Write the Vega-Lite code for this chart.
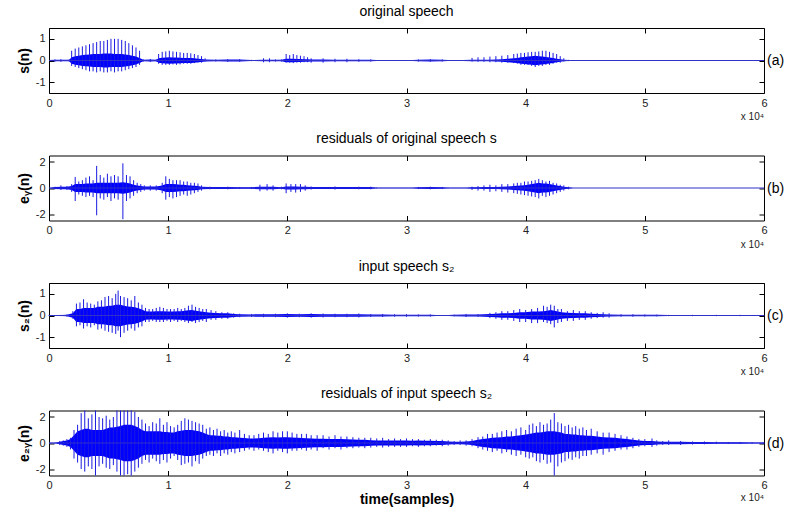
{
"$schema":"https://vega.github.io/schema/vega-lite/v6.json",
"background":"white",
"padding":{"left":16,"top":4,"right":5,"bottom":5},
"bounds":"flush",
"spacing":62.5,
"config":{
 "font":"Liberation Sans",
 "view":{"stroke":"black","strokeWidth":1},
 "axis":{"domain":false,"grid":false,"tickSize":-5,"tickColor":"black","tickWidth":1,"labelFontSize":11,"labelColor":"#222","labelPadding":9,"labelFlush":false,"labelExpr":"'' + datum.value","titleFontSize":14,"titleFontWeight":"bold","titleColor":"black","titlePadding":4},
 "axisRight":{"titleAngle":0,"titleFontWeight":"normal","titleAlign":"left","titleBaseline":"middle","titlePadding":2},
 "title":{"fontSize":14,"fontWeight":"normal","color":"black","offset":9}
},
"datasets":{
"a":[
{"x":0,"l":0,"h":0,"cl":-0.02,"ch":0.02},
{"x":0.05,"l":-0.05,"h":0.05,"cl":-0.03,"ch":0.03},
{"x":0.1,"l":-0.06,"h":0.06,"cl":-0.04,"ch":0.04},
{"x":0.17,"l":-0.05,"h":0.05,"cl":-0.04,"ch":0.04},
{"x":0.19,"l":-0.25,"h":0.45,"cl":-0.15,"ch":0.15},
{"x":0.22,"l":-0.3,"h":0.55,"cl":-0.2,"ch":0.2},
{"x":0.25,"l":-0.35,"h":0.6,"cl":-0.22,"ch":0.22},
{"x":0.28,"l":-0.4,"h":0.65,"cl":-0.25,"ch":0.25},
{"x":0.31,"l":-0.45,"h":0.7,"cl":-0.27,"ch":0.27},
{"x":0.34,"l":-0.5,"h":0.75,"cl":-0.28,"ch":0.28},
{"x":0.37,"l":-0.5,"h":0.8,"cl":-0.3,"ch":0.3},
{"x":0.40,"l":-0.55,"h":0.85,"cl":-0.3,"ch":0.3},
{"x":0.43,"l":-0.5,"h":0.9,"cl":-0.3,"ch":0.3},
{"x":0.46,"l":-0.55,"h":0.9,"cl":-0.32,"ch":0.32},
{"x":0.49,"l":-0.55,"h":0.95,"cl":-0.32,"ch":0.32},
{"x":0.52,"l":-0.5,"h":1.0,"cl":-0.3,"ch":0.32},
{"x":0.55,"l":-0.55,"h":1.0,"cl":-0.3,"ch":0.3},
{"x":0.58,"l":-0.5,"h":1.0,"cl":-0.3,"ch":0.3},
{"x":0.61,"l":-0.5,"h":0.95,"cl":-0.3,"ch":0.3},
{"x":0.64,"l":-0.45,"h":0.9,"cl":-0.28,"ch":0.28},
{"x":0.67,"l":-0.4,"h":0.8,"cl":-0.25,"ch":0.25},
{"x":0.70,"l":-0.35,"h":0.7,"cl":-0.22,"ch":0.22},
{"x":0.73,"l":-0.3,"h":0.6,"cl":-0.18,"ch":0.18},
{"x":0.76,"l":-0.2,"h":0.45,"cl":-0.12,"ch":0.12},
{"x":0.79,"l":-0.06,"h":0.06,"cl":-0.04,"ch":0.04},
{"x":0.85,"l":-0.07,"h":0.07,"cl":-0.05,"ch":0.05},
{"x":0.9,"l":-0.05,"h":0.05,"cl":-0.04,"ch":0.04},
{"x":0.92,"l":-0.15,"h":0.3,"cl":-0.1,"ch":0.1},
{"x":0.95,"l":-0.2,"h":0.4,"cl":-0.13,"ch":0.13},
{"x":0.98,"l":-0.2,"h":0.42,"cl":-0.14,"ch":0.14},
{"x":1.01,"l":-0.2,"h":0.45,"cl":-0.15,"ch":0.15},
{"x":1.04,"l":-0.18,"h":0.42,"cl":-0.14,"ch":0.14},
{"x":1.07,"l":-0.2,"h":0.4,"cl":-0.14,"ch":0.14},
{"x":1.10,"l":-0.18,"h":0.38,"cl":-0.13,"ch":0.13},
{"x":1.13,"l":-0.15,"h":0.35,"cl":-0.12,"ch":0.12},
{"x":1.16,"l":-0.15,"h":0.35,"cl":-0.12,"ch":0.12},
{"x":1.19,"l":-0.15,"h":0.33,"cl":-0.11,"ch":0.11},
{"x":1.22,"l":-0.12,"h":0.3,"cl":-0.1,"ch":0.1},
{"x":1.25,"l":-0.1,"h":0.25,"cl":-0.08,"ch":0.08},
{"x":1.28,"l":-0.1,"h":0.2,"cl":-0.07,"ch":0.07},
{"x":1.31,"l":-0.05,"h":0.1,"cl":-0.05,"ch":0.05},
{"x":1.4,"l":-0.05,"h":0.05,"cl":-0.04,"ch":0.04},
{"x":1.5,"l":-0.06,"h":0.06,"cl":-0.05,"ch":0.05},
{"x":1.6,"l":-0.06,"h":0.06,"cl":-0.05,"ch":0.05},
{"x":1.7,"l":-0.03,"h":0.03,"cl":-0.02,"ch":0.02},
{"x":1.8,"l":-0.08,"h":0.1,"cl":-0.04,"ch":0.04},
{"x":1.85,"l":-0.08,"h":0.1,"cl":-0.04,"ch":0.04},
{"x":1.9,"l":-0.05,"h":0.05,"cl":-0.03,"ch":0.03},
{"x":1.95,"l":-0.05,"h":0.05,"cl":-0.03,"ch":0.03},
{"x":1.99,"l":-0.1,"h":0.3,"cl":-0.08,"ch":0.08},
{"x":2.02,"l":-0.1,"h":0.25,"cl":-0.08,"ch":0.08},
{"x":2.05,"l":-0.12,"h":0.3,"cl":-0.08,"ch":0.08},
{"x":2.08,"l":-0.1,"h":0.25,"cl":-0.07,"ch":0.07},
{"x":2.11,"l":-0.1,"h":0.22,"cl":-0.07,"ch":0.07},
{"x":2.14,"l":-0.08,"h":0.2,"cl":-0.06,"ch":0.06},
{"x":2.17,"l":-0.08,"h":0.15,"cl":-0.06,"ch":0.06},
{"x":2.2,"l":-0.1,"h":0.1,"cl":-0.05,"ch":0.05},
{"x":2.3,"l":-0.1,"h":0.1,"cl":-0.05,"ch":0.05},
{"x":2.4,"l":-0.08,"h":0.08,"cl":-0.04,"ch":0.04},
{"x":2.5,"l":-0.08,"h":0.08,"cl":-0.04,"ch":0.04},
{"x":2.6,"l":-0.06,"h":0.06,"cl":-0.03,"ch":0.03},
{"x":2.7,"l":-0.05,"h":0.05,"cl":-0.03,"ch":0.03},
{"x":2.8,"l":-0.02,"h":0.02,"cl":-0.01,"ch":0.01},
{"x":3.0,"l":0,"h":0,"cl":-0.01,"ch":0.01},
{"x":3.1,"l":-0.05,"h":0.05,"cl":-0.04,"ch":0.04},
{"x":3.2,"l":-0.06,"h":0.06,"cl":-0.05,"ch":0.05},
{"x":3.3,"l":-0.05,"h":0.05,"cl":-0.04,"ch":0.04},
{"x":3.4,"l":-0.02,"h":0.02,"cl":-0.01,"ch":0.01},
{"x":3.55,"l":-0.05,"h":0.12,"cl":-0.03,"ch":0.03},
{"x":3.6,"l":-0.06,"h":0.15,"cl":-0.03,"ch":0.03},
{"x":3.65,"l":-0.06,"h":0.15,"cl":-0.04,"ch":0.04},
{"x":3.7,"l":-0.08,"h":0.18,"cl":-0.04,"ch":0.04},
{"x":3.75,"l":-0.08,"h":0.2,"cl":-0.05,"ch":0.05},
{"x":3.8,"l":-0.1,"h":0.22,"cl":-0.06,"ch":0.06},
{"x":3.85,"l":-0.1,"h":0.25,"cl":-0.08,"ch":0.08},
{"x":3.9,"l":-0.12,"h":0.3,"cl":-0.1,"ch":0.1},
{"x":3.93,"l":-0.15,"h":0.32,"cl":-0.12,"ch":0.12},
{"x":3.96,"l":-0.2,"h":0.35,"cl":-0.15,"ch":0.15},
{"x":3.99,"l":-0.2,"h":0.35,"cl":-0.16,"ch":0.16},
{"x":4.02,"l":-0.2,"h":0.38,"cl":-0.18,"ch":0.18},
{"x":4.05,"l":-0.25,"h":0.4,"cl":-0.2,"ch":0.2},
{"x":4.08,"l":-0.3,"h":0.4,"cl":-0.22,"ch":0.22},
{"x":4.11,"l":-0.25,"h":0.42,"cl":-0.2,"ch":0.2},
{"x":4.14,"l":-0.25,"h":0.45,"cl":-0.18,"ch":0.18},
{"x":4.17,"l":-0.2,"h":0.45,"cl":-0.16,"ch":0.16},
{"x":4.20,"l":-0.2,"h":0.4,"cl":-0.14,"ch":0.14},
{"x":4.23,"l":-0.15,"h":0.35,"cl":-0.12,"ch":0.12},
{"x":4.26,"l":-0.1,"h":0.3,"cl":-0.08,"ch":0.08},
{"x":4.29,"l":-0.1,"h":0.2,"cl":-0.06,"ch":0.06},
{"x":4.32,"l":-0.05,"h":0.1,"cl":-0.04,"ch":0.04},
{"x":4.36,"l":-0.03,"h":0.03,"cl":-0.02,"ch":0.02},
{"x":4.4,"l":0,"h":0,"cl":0,"ch":0},
{"x":6,"l":0,"h":0,"cl":0,"ch":0}
],
"b":[
{"x":0,"l":0,"h":0,"cl":0,"ch":0},
{"x":0.05,"l":-0.1,"h":0.1,"cl":-0.08,"ch":0.08},
{"x":0.1,"l":-0.15,"h":0.2,"cl":-0.1,"ch":0.1},
{"x":0.15,"l":-0.15,"h":0.15,"cl":-0.1,"ch":0.1},
{"x":0.19,"l":-0.3,"h":0.3,"cl":-0.15,"ch":0.15},
{"x":0.22,"l":-1.0,"h":0.85,"cl":-0.3,"ch":0.3},
{"x":0.25,"l":-0.5,"h":0.5,"cl":-0.3,"ch":0.3},
{"x":0.28,"l":-0.6,"h":0.6,"cl":-0.3,"ch":0.3},
{"x":0.31,"l":-0.7,"h":0.8,"cl":-0.35,"ch":0.35},
{"x":0.34,"l":-0.6,"h":0.9,"cl":-0.35,"ch":0.35},
{"x":0.37,"l":-0.7,"h":0.6,"cl":-0.35,"ch":0.35},
{"x":0.40,"l":-2.1,"h":1.7,"cl":-0.4,"ch":0.4},
{"x":0.43,"l":-0.8,"h":1.0,"cl":-0.4,"ch":0.4},
{"x":0.46,"l":-0.9,"h":0.8,"cl":-0.4,"ch":0.4},
{"x":0.49,"l":-0.7,"h":1.1,"cl":-0.4,"ch":0.4},
{"x":0.52,"l":-1.0,"h":0.9,"cl":-0.4,"ch":0.4},
{"x":0.55,"l":-0.8,"h":1.0,"cl":-0.4,"ch":0.4},
{"x":0.58,"l":-0.9,"h":0.9,"cl":-0.4,"ch":0.4},
{"x":0.62,"l":-2.4,"h":1.9,"cl":-0.45,"ch":0.45},
{"x":0.65,"l":-1.0,"h":1.0,"cl":-0.4,"ch":0.4},
{"x":0.68,"l":-0.8,"h":0.9,"cl":-0.35,"ch":0.35},
{"x":0.71,"l":-0.6,"h":0.6,"cl":-0.25,"ch":0.25},
{"x":0.74,"l":-0.4,"h":0.4,"cl":-0.2,"ch":0.2},
{"x":0.77,"l":-0.3,"h":0.3,"cl":-0.15,"ch":0.15},
{"x":0.8,"l":-0.2,"h":0.2,"cl":-0.12,"ch":0.12},
{"x":0.85,"l":-0.2,"h":0.2,"cl":-0.12,"ch":0.12},
{"x":0.9,"l":-0.2,"h":0.2,"cl":-0.12,"ch":0.12},
{"x":0.95,"l":-0.4,"h":0.4,"cl":-0.2,"ch":0.2},
{"x":0.98,"l":-0.9,"h":0.9,"cl":-0.3,"ch":0.3},
{"x":1.01,"l":-0.7,"h":0.7,"cl":-0.3,"ch":0.3},
{"x":1.04,"l":-0.8,"h":0.6,"cl":-0.3,"ch":0.3},
{"x":1.07,"l":-0.7,"h":0.6,"cl":-0.28,"ch":0.28},
{"x":1.10,"l":-0.6,"h":0.6,"cl":-0.25,"ch":0.25},
{"x":1.13,"l":-0.5,"h":0.5,"cl":-0.25,"ch":0.25},
{"x":1.16,"l":-0.6,"h":0.5,"cl":-0.22,"ch":0.22},
{"x":1.19,"l":-0.5,"h":0.4,"cl":-0.2,"ch":0.2},
{"x":1.22,"l":-0.4,"h":0.4,"cl":-0.18,"ch":0.18},
{"x":1.25,"l":-0.3,"h":0.35,"cl":-0.15,"ch":0.15},
{"x":1.28,"l":-0.2,"h":0.2,"cl":-0.1,"ch":0.1},
{"x":1.35,"l":-0.1,"h":0.1,"cl":-0.08,"ch":0.08},
{"x":1.5,"l":-0.1,"h":0.1,"cl":-0.08,"ch":0.08},
{"x":1.6,"l":-0.08,"h":0.08,"cl":-0.06,"ch":0.06},
{"x":1.7,"l":-0.08,"h":0.08,"cl":-0.06,"ch":0.06},
{"x":1.77,"l":-0.25,"h":0.25,"cl":-0.1,"ch":0.1},
{"x":1.83,"l":-0.2,"h":0.3,"cl":-0.1,"ch":0.1},
{"x":1.88,"l":-0.2,"h":0.2,"cl":-0.1,"ch":0.1},
{"x":1.95,"l":-0.1,"h":0.1,"cl":-0.06,"ch":0.06},
{"x":1.99,"l":-0.4,"h":0.35,"cl":-0.12,"ch":0.12},
{"x":2.03,"l":-0.3,"h":0.3,"cl":-0.12,"ch":0.12},
{"x":2.07,"l":-0.35,"h":0.3,"cl":-0.12,"ch":0.12},
{"x":2.11,"l":-0.3,"h":0.3,"cl":-0.1,"ch":0.1},
{"x":2.15,"l":-0.2,"h":0.2,"cl":-0.1,"ch":0.1},
{"x":2.2,"l":-0.12,"h":0.12,"cl":-0.08,"ch":0.08},
{"x":2.4,"l":-0.12,"h":0.12,"cl":-0.08,"ch":0.08},
{"x":2.6,"l":-0.1,"h":0.1,"cl":-0.07,"ch":0.07},
{"x":2.7,"l":-0.1,"h":0.1,"cl":-0.07,"ch":0.07},
{"x":2.75,"l":-0.03,"h":0.03,"cl":-0.02,"ch":0.02},
{"x":3.05,"l":0,"h":0,"cl":-0.01,"ch":0.01},
{"x":3.1,"l":-0.08,"h":0.08,"cl":-0.06,"ch":0.06},
{"x":3.2,"l":-0.1,"h":0.1,"cl":-0.07,"ch":0.07},
{"x":3.3,"l":-0.08,"h":0.08,"cl":-0.06,"ch":0.06},
{"x":3.35,"l":-0.02,"h":0.02,"cl":-0.01,"ch":0.01},
{"x":3.5,"l":0,"h":0,"cl":-0.01,"ch":0.01},
{"x":3.55,"l":-0.15,"h":0.1,"cl":-0.05,"ch":0.05},
{"x":3.6,"l":-0.2,"h":0.15,"cl":-0.06,"ch":0.06},
{"x":3.65,"l":-0.2,"h":0.2,"cl":-0.07,"ch":0.07},
{"x":3.7,"l":-0.3,"h":0.25,"cl":-0.08,"ch":0.08},
{"x":3.75,"l":-0.25,"h":0.2,"cl":-0.08,"ch":0.08},
{"x":3.8,"l":-0.3,"h":0.3,"cl":-0.1,"ch":0.1},
{"x":3.85,"l":-0.35,"h":0.3,"cl":-0.12,"ch":0.12},
{"x":3.9,"l":-0.4,"h":0.35,"cl":-0.15,"ch":0.15},
{"x":3.93,"l":-0.45,"h":0.4,"cl":-0.17,"ch":0.17},
{"x":3.96,"l":-0.5,"h":0.4,"cl":-0.2,"ch":0.2},
{"x":3.99,"l":-0.55,"h":0.5,"cl":-0.22,"ch":0.22},
{"x":4.02,"l":-0.6,"h":0.5,"cl":-0.25,"ch":0.25},
{"x":4.05,"l":-0.65,"h":0.55,"cl":-0.3,"ch":0.3},
{"x":4.08,"l":-0.7,"h":0.6,"cl":-0.35,"ch":0.35},
{"x":4.11,"l":-0.8,"h":0.7,"cl":-0.4,"ch":0.4},
{"x":4.14,"l":-0.6,"h":0.6,"cl":-0.35,"ch":0.35},
{"x":4.17,"l":-0.7,"h":0.5,"cl":-0.35,"ch":0.35},
{"x":4.20,"l":-0.6,"h":0.55,"cl":-0.3,"ch":0.3},
{"x":4.23,"l":-0.5,"h":0.4,"cl":-0.25,"ch":0.25},
{"x":4.26,"l":-0.4,"h":0.35,"cl":-0.2,"ch":0.2},
{"x":4.29,"l":-0.3,"h":0.25,"cl":-0.15,"ch":0.15},
{"x":4.32,"l":-0.2,"h":0.2,"cl":-0.1,"ch":0.1},
{"x":4.36,"l":-0.1,"h":0.1,"cl":-0.05,"ch":0.05},
{"x":4.4,"l":0,"h":0,"cl":0,"ch":0},
{"x":6,"l":0,"h":0,"cl":0,"ch":0}
],
"c":[
{"x":0,"l":-0.02,"h":0.02,"cl":-0.015,"ch":0.015},
{"x":0.1,"l":-0.03,"h":0.03,"cl":-0.02,"ch":0.02},
{"x":0.15,"l":-0.05,"h":0.05,"cl":-0.03,"ch":0.03},
{"x":0.2,"l":-0.15,"h":0.2,"cl":-0.1,"ch":0.1},
{"x":0.23,"l":-0.5,"h":0.55,"cl":-0.3,"ch":0.3},
{"x":0.26,"l":-0.45,"h":0.6,"cl":-0.3,"ch":0.3},
{"x":0.29,"l":-0.6,"h":0.75,"cl":-0.35,"ch":0.35},
{"x":0.32,"l":-0.5,"h":0.6,"cl":-0.35,"ch":0.35},
{"x":0.35,"l":-0.55,"h":0.55,"cl":-0.35,"ch":0.35},
{"x":0.38,"l":-0.45,"h":0.5,"cl":-0.35,"ch":0.35},
{"x":0.41,"l":-0.65,"h":0.65,"cl":-0.4,"ch":0.4},
{"x":0.44,"l":-0.6,"h":0.7,"cl":-0.4,"ch":0.4},
{"x":0.47,"l":-0.7,"h":0.85,"cl":-0.42,"ch":0.42},
{"x":0.50,"l":-0.75,"h":0.9,"cl":-0.45,"ch":0.45},
{"x":0.53,"l":-0.8,"h":0.8,"cl":-0.45,"ch":0.45},
{"x":0.56,"l":-0.85,"h":1.0,"cl":-0.5,"ch":0.5},
{"x":0.58,"l":-0.7,"h":1.15,"cl":-0.5,"ch":0.5},
{"x":0.60,"l":-1.0,"h":0.9,"cl":-0.5,"ch":0.5},
{"x":0.63,"l":-0.8,"h":0.85,"cl":-0.45,"ch":0.45},
{"x":0.66,"l":-0.7,"h":0.8,"cl":-0.42,"ch":0.42},
{"x":0.69,"l":-0.6,"h":0.7,"cl":-0.4,"ch":0.4},
{"x":0.72,"l":-0.7,"h":0.9,"cl":-0.38,"ch":0.38},
{"x":0.75,"l":-0.55,"h":0.6,"cl":-0.33,"ch":0.33},
{"x":0.78,"l":-0.5,"h":0.5,"cl":-0.28,"ch":0.28},
{"x":0.81,"l":-0.3,"h":0.35,"cl":-0.2,"ch":0.2},
{"x":0.84,"l":-0.3,"h":0.3,"cl":-0.18,"ch":0.18},
{"x":0.87,"l":-0.25,"h":0.3,"cl":-0.18,"ch":0.18},
{"x":0.90,"l":-0.3,"h":0.35,"cl":-0.2,"ch":0.2},
{"x":0.93,"l":-0.3,"h":0.4,"cl":-0.2,"ch":0.2},
{"x":0.96,"l":-0.3,"h":0.35,"cl":-0.2,"ch":0.2},
{"x":0.99,"l":-0.25,"h":0.3,"cl":-0.18,"ch":0.18},
{"x":1.02,"l":-0.3,"h":0.3,"cl":-0.18,"ch":0.18},
{"x":1.05,"l":-0.25,"h":0.3,"cl":-0.18,"ch":0.18},
{"x":1.08,"l":-0.3,"h":0.35,"cl":-0.2,"ch":0.2},
{"x":1.11,"l":-0.25,"h":0.3,"cl":-0.2,"ch":0.2},
{"x":1.14,"l":-0.3,"h":0.35,"cl":-0.22,"ch":0.22},
{"x":1.17,"l":-0.35,"h":0.45,"cl":-0.24,"ch":0.24},
{"x":1.20,"l":-0.3,"h":0.5,"cl":-0.25,"ch":0.25},
{"x":1.23,"l":-0.35,"h":0.4,"cl":-0.22,"ch":0.22},
{"x":1.26,"l":-0.3,"h":0.35,"cl":-0.2,"ch":0.2},
{"x":1.29,"l":-0.25,"h":0.3,"cl":-0.17,"ch":0.17},
{"x":1.32,"l":-0.3,"h":0.3,"cl":-0.15,"ch":0.15},
{"x":1.36,"l":-0.2,"h":0.25,"cl":-0.13,"ch":0.13},
{"x":1.40,"l":-0.2,"h":0.2,"cl":-0.12,"ch":0.12},
{"x":1.45,"l":-0.15,"h":0.15,"cl":-0.1,"ch":0.1},
{"x":1.5,"l":-0.15,"h":0.15,"cl":-0.1,"ch":0.1},
{"x":1.55,"l":-0.1,"h":0.1,"cl":-0.07,"ch":0.07},
{"x":1.6,"l":-0.08,"h":0.08,"cl":-0.06,"ch":0.06},
{"x":1.7,"l":-0.07,"h":0.07,"cl":-0.05,"ch":0.05},
{"x":1.8,"l":-0.08,"h":0.08,"cl":-0.06,"ch":0.06},
{"x":1.9,"l":-0.08,"h":0.08,"cl":-0.06,"ch":0.06},
{"x":2.0,"l":-0.1,"h":0.1,"cl":-0.07,"ch":0.07},
{"x":2.1,"l":-0.08,"h":0.08,"cl":-0.06,"ch":0.06},
{"x":2.2,"l":-0.1,"h":0.1,"cl":-0.07,"ch":0.07},
{"x":2.3,"l":-0.09,"h":0.09,"cl":-0.06,"ch":0.06},
{"x":2.4,"l":-0.08,"h":0.08,"cl":-0.06,"ch":0.06},
{"x":2.5,"l":-0.08,"h":0.08,"cl":-0.06,"ch":0.06},
{"x":2.6,"l":-0.09,"h":0.09,"cl":-0.06,"ch":0.06},
{"x":2.7,"l":-0.07,"h":0.07,"cl":-0.05,"ch":0.05},
{"x":2.8,"l":-0.07,"h":0.07,"cl":-0.05,"ch":0.05},
{"x":2.9,"l":-0.06,"h":0.06,"cl":-0.04,"ch":0.04},
{"x":3.0,"l":-0.06,"h":0.06,"cl":-0.04,"ch":0.04},
{"x":3.1,"l":-0.05,"h":0.05,"cl":-0.04,"ch":0.04},
{"x":3.2,"l":-0.05,"h":0.05,"cl":-0.04,"ch":0.04},
{"x":3.3,"l":-0.02,"h":0.02,"cl":-0.015,"ch":0.015},
{"x":3.4,"l":-0.04,"h":0.04,"cl":-0.03,"ch":0.03},
{"x":3.5,"l":-0.07,"h":0.07,"cl":-0.05,"ch":0.05},
{"x":3.6,"l":-0.06,"h":0.06,"cl":-0.05,"ch":0.05},
{"x":3.7,"l":-0.12,"h":0.12,"cl":-0.07,"ch":0.07},
{"x":3.75,"l":-0.15,"h":0.15,"cl":-0.08,"ch":0.08},
{"x":3.8,"l":-0.2,"h":0.2,"cl":-0.1,"ch":0.1},
{"x":3.85,"l":-0.2,"h":0.2,"cl":-0.1,"ch":0.1},
{"x":3.9,"l":-0.25,"h":0.25,"cl":-0.12,"ch":0.12},
{"x":3.95,"l":-0.3,"h":0.3,"cl":-0.15,"ch":0.15},
{"x":4.0,"l":-0.3,"h":0.25,"cl":-0.15,"ch":0.15},
{"x":4.05,"l":-0.35,"h":0.3,"cl":-0.18,"ch":0.18},
{"x":4.1,"l":-0.35,"h":0.35,"cl":-0.18,"ch":0.18},
{"x":4.15,"l":-0.3,"h":0.45,"cl":-0.2,"ch":0.2},
{"x":4.18,"l":-0.35,"h":0.4,"cl":-0.22,"ch":0.22},
{"x":4.21,"l":-0.4,"h":0.5,"cl":-0.25,"ch":0.25},
{"x":4.24,"l":-0.55,"h":0.45,"cl":-0.22,"ch":0.22},
{"x":4.27,"l":-0.35,"h":0.3,"cl":-0.18,"ch":0.18},
{"x":4.3,"l":-0.3,"h":0.3,"cl":-0.15,"ch":0.15},
{"x":4.35,"l":-0.25,"h":0.2,"cl":-0.13,"ch":0.13},
{"x":4.4,"l":-0.25,"h":0.25,"cl":-0.12,"ch":0.12},
{"x":4.45,"l":-0.2,"h":0.2,"cl":-0.1,"ch":0.1},
{"x":4.5,"l":-0.2,"h":0.2,"cl":-0.1,"ch":0.1},
{"x":4.55,"l":-0.15,"h":0.15,"cl":-0.08,"ch":0.08},
{"x":4.6,"l":-0.12,"h":0.12,"cl":-0.07,"ch":0.07},
{"x":4.65,"l":-0.1,"h":0.15,"cl":-0.06,"ch":0.06},
{"x":4.7,"l":-0.1,"h":0.1,"cl":-0.05,"ch":0.05},
{"x":4.8,"l":-0.06,"h":0.06,"cl":-0.04,"ch":0.04},
{"x":4.9,"l":-0.06,"h":0.06,"cl":-0.04,"ch":0.04},
{"x":5.0,"l":-0.05,"h":0.05,"cl":-0.04,"ch":0.04},
{"x":5.1,"l":-0.04,"h":0.04,"cl":-0.03,"ch":0.03},
{"x":5.2,"l":-0.03,"h":0.03,"cl":-0.02,"ch":0.02},
{"x":5.4,"l":-0.03,"h":0.03,"cl":-0.02,"ch":0.02},
{"x":5.6,"l":-0.03,"h":0.03,"cl":-0.02,"ch":0.02},
{"x":5.8,"l":-0.03,"h":0.03,"cl":-0.02,"ch":0.02},
{"x":6.0,"l":-0.02,"h":0.02,"cl":-0.015,"ch":0.015}
],
"d":[
{"x":0,"l":0,"h":0,"cl":-0.01,"ch":0.01},
{"x":0.05,"l":-0.03,"h":0.03,"cl":-0.02,"ch":0.02},
{"x":0.09,"l":-0.15,"h":0.15,"cl":-0.1,"ch":0.1},
{"x":0.12,"l":-0.2,"h":0.2,"cl":-0.15,"ch":0.15},
{"x":0.15,"l":-0.3,"h":0.3,"cl":-0.2,"ch":0.2},
{"x":0.18,"l":-0.5,"h":0.4,"cl":-0.3,"ch":0.3},
{"x":0.21,"l":-1.2,"h":1.0,"cl":-0.6,"ch":0.6},
{"x":0.24,"l":-1.5,"h":1.4,"cl":-0.9,"ch":0.9},
{"x":0.27,"l":-2.0,"h":2.3,"cl":-1.0,"ch":1.0},
{"x":0.30,"l":-2.2,"h":2.5,"cl":-1.1,"ch":1.1},
{"x":0.33,"l":-1.8,"h":1.9,"cl":-1.1,"ch":1.1},
{"x":0.36,"l":-2.0,"h":2.2,"cl":-1.0,"ch":1.0},
{"x":0.39,"l":-2.5,"h":2.5,"cl":-1.0,"ch":1.0},
{"x":0.42,"l":-1.8,"h":2.0,"cl":-1.0,"ch":1.0},
{"x":0.45,"l":-1.6,"h":1.9,"cl":-1.0,"ch":1.0},
{"x":0.48,"l":-1.9,"h":2.1,"cl":-1.1,"ch":1.1},
{"x":0.51,"l":-2.0,"h":1.8,"cl":-1.2,"ch":1.2},
{"x":0.54,"l":-1.7,"h":2.0,"cl":-1.2,"ch":1.2},
{"x":0.57,"l":-2.2,"h":2.5,"cl":-1.25,"ch":1.25},
{"x":0.60,"l":-2.5,"h":2.5,"cl":-1.3,"ch":1.3},
{"x":0.63,"l":-2.5,"h":2.5,"cl":-1.4,"ch":1.4},
{"x":0.66,"l":-2.4,"h":2.5,"cl":-1.4,"ch":1.4},
{"x":0.69,"l":-2.5,"h":2.5,"cl":-1.4,"ch":1.4},
{"x":0.72,"l":-2.2,"h":2.4,"cl":-1.3,"ch":1.3},
{"x":0.75,"l":-1.9,"h":2.0,"cl":-1.2,"ch":1.2},
{"x":0.78,"l":-1.6,"h":1.8,"cl":-1.0,"ch":1.0},
{"x":0.81,"l":-1.3,"h":1.5,"cl":-0.9,"ch":0.9},
{"x":0.84,"l":-1.5,"h":1.3,"cl":-0.9,"ch":0.9},
{"x":0.87,"l":-1.2,"h":1.6,"cl":-0.9,"ch":0.9},
{"x":0.90,"l":-1.4,"h":1.5,"cl":-0.9,"ch":0.9},
{"x":0.93,"l":-1.6,"h":1.9,"cl":-0.9,"ch":0.9},
{"x":0.96,"l":-1.3,"h":1.4,"cl":-0.85,"ch":0.85},
{"x":0.99,"l":-1.5,"h":1.6,"cl":-0.85,"ch":0.85},
{"x":1.02,"l":-1.2,"h":1.3,"cl":-0.8,"ch":0.8},
{"x":1.05,"l":-1.0,"h":1.2,"cl":-0.8,"ch":0.8},
{"x":1.08,"l":-1.3,"h":1.4,"cl":-0.9,"ch":0.9},
{"x":1.11,"l":-1.7,"h":1.7,"cl":-0.95,"ch":0.95},
{"x":1.14,"l":-1.6,"h":1.9,"cl":-1.0,"ch":1.0},
{"x":1.17,"l":-1.5,"h":1.8,"cl":-1.0,"ch":1.0},
{"x":1.20,"l":-1.8,"h":1.7,"cl":-1.0,"ch":1.0},
{"x":1.23,"l":-1.4,"h":1.6,"cl":-0.95,"ch":0.95},
{"x":1.26,"l":-1.6,"h":1.5,"cl":-0.9,"ch":0.9},
{"x":1.29,"l":-1.2,"h":1.4,"cl":-0.8,"ch":0.8},
{"x":1.32,"l":-1.0,"h":1.1,"cl":-0.7,"ch":0.7},
{"x":1.35,"l":-0.9,"h":1.2,"cl":-0.6,"ch":0.6},
{"x":1.38,"l":-1.0,"h":1.0,"cl":-0.6,"ch":0.6},
{"x":1.41,"l":-0.8,"h":1.1,"cl":-0.55,"ch":0.55},
{"x":1.44,"l":-1.0,"h":0.9,"cl":-0.55,"ch":0.55},
{"x":1.47,"l":-0.8,"h":1.0,"cl":-0.5,"ch":0.5},
{"x":1.50,"l":-0.9,"h":0.8,"cl":-0.5,"ch":0.5},
{"x":1.53,"l":-0.7,"h":0.9,"cl":-0.45,"ch":0.45},
{"x":1.56,"l":-0.8,"h":0.8,"cl":-0.45,"ch":0.45},
{"x":1.60,"l":-0.7,"h":1.0,"cl":-0.4,"ch":0.4},
{"x":1.64,"l":-0.6,"h":0.7,"cl":-0.38,"ch":0.38},
{"x":1.68,"l":-0.5,"h":0.6,"cl":-0.35,"ch":0.35},
{"x":1.72,"l":-0.6,"h":0.6,"cl":-0.35,"ch":0.35},
{"x":1.76,"l":-0.5,"h":0.7,"cl":-0.37,"ch":0.37},
{"x":1.80,"l":-0.6,"h":0.8,"cl":-0.4,"ch":0.4},
{"x":1.84,"l":-0.7,"h":0.7,"cl":-0.42,"ch":0.42},
{"x":1.88,"l":-0.8,"h":0.9,"cl":-0.45,"ch":0.45},
{"x":1.92,"l":-0.6,"h":0.8,"cl":-0.42,"ch":0.42},
{"x":1.96,"l":-0.7,"h":0.9,"cl":-0.45,"ch":0.45},
{"x":2.00,"l":-0.8,"h":0.9,"cl":-0.45,"ch":0.45},
{"x":2.04,"l":-0.6,"h":0.8,"cl":-0.42,"ch":0.42},
{"x":2.08,"l":-0.6,"h":0.7,"cl":-0.4,"ch":0.4},
{"x":2.12,"l":-0.5,"h":0.7,"cl":-0.38,"ch":0.38},
{"x":2.16,"l":-0.6,"h":0.7,"cl":-0.36,"ch":0.36},
{"x":2.20,"l":-0.5,"h":0.6,"cl":-0.35,"ch":0.35},
{"x":2.25,"l":-0.6,"h":0.6,"cl":-0.33,"ch":0.33},
{"x":2.30,"l":-0.4,"h":0.6,"cl":-0.32,"ch":0.32},
{"x":2.35,"l":-0.5,"h":0.5,"cl":-0.3,"ch":0.3},
{"x":2.40,"l":-0.4,"h":0.6,"cl":-0.3,"ch":0.3},
{"x":2.45,"l":-0.5,"h":0.5,"cl":-0.3,"ch":0.3},
{"x":2.50,"l":-0.4,"h":0.5,"cl":-0.28,"ch":0.28},
{"x":2.55,"l":-0.4,"h":0.45,"cl":-0.26,"ch":0.26},
{"x":2.60,"l":-0.35,"h":0.4,"cl":-0.25,"ch":0.25},
{"x":2.65,"l":-0.4,"h":0.4,"cl":-0.25,"ch":0.25},
{"x":2.70,"l":-0.35,"h":0.4,"cl":-0.22,"ch":0.22},
{"x":2.75,"l":-0.3,"h":0.35,"cl":-0.2,"ch":0.2},
{"x":2.80,"l":-0.35,"h":0.4,"cl":-0.2,"ch":0.2},
{"x":2.85,"l":-0.3,"h":0.3,"cl":-0.2,"ch":0.2},
{"x":2.90,"l":-0.3,"h":0.35,"cl":-0.2,"ch":0.2},
{"x":2.95,"l":-0.3,"h":0.3,"cl":-0.2,"ch":0.2},
{"x":3.00,"l":-0.3,"h":0.35,"cl":-0.2,"ch":0.2},
{"x":3.05,"l":-0.25,"h":0.3,"cl":-0.18,"ch":0.18},
{"x":3.10,"l":-0.3,"h":0.3,"cl":-0.2,"ch":0.2},
{"x":3.15,"l":-0.25,"h":0.25,"cl":-0.17,"ch":0.17},
{"x":3.20,"l":-0.25,"h":0.3,"cl":-0.17,"ch":0.17},
{"x":3.25,"l":-0.2,"h":0.25,"cl":-0.15,"ch":0.15},
{"x":3.30,"l":-0.25,"h":0.25,"cl":-0.15,"ch":0.15},
{"x":3.35,"l":-0.2,"h":0.2,"cl":-0.12,"ch":0.12},
{"x":3.40,"l":-0.15,"h":0.15,"cl":-0.1,"ch":0.1},
{"x":3.45,"l":-0.15,"h":0.2,"cl":-0.1,"ch":0.1},
{"x":3.50,"l":-0.2,"h":0.2,"cl":-0.12,"ch":0.12},
{"x":3.55,"l":-0.25,"h":0.3,"cl":-0.15,"ch":0.15},
{"x":3.60,"l":-0.4,"h":0.45,"cl":-0.25,"ch":0.25},
{"x":3.64,"l":-0.5,"h":0.5,"cl":-0.3,"ch":0.3},
{"x":3.68,"l":-0.6,"h":0.7,"cl":-0.35,"ch":0.35},
{"x":3.72,"l":-0.7,"h":0.7,"cl":-0.4,"ch":0.4},
{"x":3.76,"l":-0.6,"h":0.8,"cl":-0.42,"ch":0.42},
{"x":3.80,"l":-0.8,"h":0.9,"cl":-0.45,"ch":0.45},
{"x":3.84,"l":-0.7,"h":1.0,"cl":-0.5,"ch":0.5},
{"x":3.88,"l":-0.9,"h":0.9,"cl":-0.5,"ch":0.5},
{"x":3.92,"l":-1.0,"h":1.1,"cl":-0.55,"ch":0.55},
{"x":3.96,"l":-0.9,"h":1.2,"cl":-0.6,"ch":0.6},
{"x":4.00,"l":-1.1,"h":1.0,"cl":-0.65,"ch":0.65},
{"x":4.03,"l":-1.2,"h":1.4,"cl":-0.7,"ch":0.7},
{"x":4.06,"l":-1.1,"h":1.5,"cl":-0.75,"ch":0.75},
{"x":4.09,"l":-1.4,"h":1.3,"cl":-0.8,"ch":0.8},
{"x":4.12,"l":-1.5,"h":1.6,"cl":-0.8,"ch":0.8},
{"x":4.15,"l":-1.3,"h":1.4,"cl":-0.85,"ch":0.85},
{"x":4.18,"l":-1.6,"h":1.5,"cl":-0.9,"ch":0.9},
{"x":4.21,"l":-1.5,"h":1.8,"cl":-0.9,"ch":0.9},
{"x":4.24,"l":-2.5,"h":2.3,"cl":-0.9,"ch":0.9},
{"x":4.27,"l":-1.8,"h":1.6,"cl":-0.85,"ch":0.85},
{"x":4.30,"l":-1.5,"h":1.5,"cl":-0.8,"ch":0.8},
{"x":4.33,"l":-1.4,"h":1.3,"cl":-0.7,"ch":0.7},
{"x":4.36,"l":-1.2,"h":1.4,"cl":-0.7,"ch":0.7},
{"x":4.39,"l":-1.3,"h":1.2,"cl":-0.65,"ch":0.65},
{"x":4.42,"l":-1.1,"h":1.3,"cl":-0.65,"ch":0.65},
{"x":4.45,"l":-1.2,"h":1.1,"cl":-0.6,"ch":0.6},
{"x":4.48,"l":-1.0,"h":1.2,"cl":-0.6,"ch":0.6},
{"x":4.51,"l":-1.0,"h":1.0,"cl":-0.55,"ch":0.55},
{"x":4.55,"l":-0.9,"h":1.1,"cl":-0.55,"ch":0.55},
{"x":4.60,"l":-0.8,"h":0.9,"cl":-0.5,"ch":0.5},
{"x":4.65,"l":-0.9,"h":0.8,"cl":-0.45,"ch":0.45},
{"x":4.70,"l":-0.7,"h":0.8,"cl":-0.42,"ch":0.42},
{"x":4.75,"l":-0.6,"h":0.7,"cl":-0.4,"ch":0.4},
{"x":4.80,"l":-0.5,"h":0.6,"cl":-0.35,"ch":0.35},
{"x":4.85,"l":-0.5,"h":0.5,"cl":-0.3,"ch":0.3},
{"x":4.90,"l":-0.4,"h":0.4,"cl":-0.25,"ch":0.25},
{"x":4.95,"l":-0.3,"h":0.3,"cl":-0.2,"ch":0.2},
{"x":5.00,"l":-0.25,"h":0.3,"cl":-0.15,"ch":0.15},
{"x":5.06,"l":-0.3,"h":0.35,"cl":-0.15,"ch":0.15},
{"x":5.10,"l":-0.2,"h":0.2,"cl":-0.12,"ch":0.12},
{"x":5.15,"l":-0.15,"h":0.15,"cl":-0.1,"ch":0.1},
{"x":5.20,"l":-0.15,"h":0.2,"cl":-0.1,"ch":0.1},
{"x":5.30,"l":-0.15,"h":0.15,"cl":-0.1,"ch":0.1},
{"x":5.40,"l":-0.12,"h":0.12,"cl":-0.08,"ch":0.08},
{"x":5.50,"l":-0.1,"h":0.12,"cl":-0.07,"ch":0.07},
{"x":5.60,"l":-0.08,"h":0.1,"cl":-0.06,"ch":0.06},
{"x":5.70,"l":-0.08,"h":0.08,"cl":-0.05,"ch":0.05},
{"x":5.80,"l":-0.06,"h":0.08,"cl":-0.05,"ch":0.05},
{"x":5.90,"l":-0.05,"h":0.06,"cl":-0.04,"ch":0.04},
{"x":6.00,"l":-0.04,"h":0.04,"cl":-0.03,"ch":0.03}
]
},
"vconcat":[
{
 "width":715,"height":65,
 "title":{"text":"original speech"},
 "layer":[
  {"data":{"name":"a"},"mark":{"type":"area","color":"#0000ff"},
   "encoding":{
    "x":{"field":"x","type":"quantitative","scale":{"domain":[0,6],"nice":false},"axis":{"orient":"bottom","values":[0,1,2,3,4,5,6],"title":null}},
    "y":{"field":"ch","type":"quantitative","scale":{"domain":[-1.5,1.5],"nice":false,"zero":false},"axis":{"orient":"left","values":[-1,0,1],"title":"s(n)"}},
    "y2":{"field":"cl"}}},
  {"data":{"name":"a"},"mark":{"type":"rule","color":"#1a1ae0","strokeWidth":1},
   "encoding":{
    "x":{"field":"x","type":"quantitative","axis":{"orient":"top","values":[0,1,2,3,4,5,6],"labels":false,"title":null}},
    "y":{"field":"l","type":"quantitative","axis":{"orient":"right","values":[-1,0,1],"labels":false,"title":"(a)"}},
    "y2":{"field":"h"}}},
  {"data":{"values":[{}]},"mark":{"type":"rule","color":"#3030c8","stroke":"#3030c8","strokeWidth":1.2},"encoding":{"y":{"datum":0,"type":"quantitative","axis":null}}},
  {"data":{"values":[{}]},"mark":{"type":"text","text":"x 10⁴","align":"right","baseline":"middle","dy":24,"fontSize":10,"color":"#222"},
   "encoding":{"x":{"datum":6,"type":"quantitative","axis":null},"y":{"datum":-1.5,"type":"quantitative","axis":null}}}
 ],
 "resolve":{"axis":{"x":"independent","y":"independent"}}
},
{
 "width":715,"height":65,
 "title":{"text":"residuals of original speech s"},
 "layer":[
  {"data":{"name":"b"},"mark":{"type":"area","color":"#0000ff"},
   "encoding":{
    "x":{"field":"x","type":"quantitative","scale":{"domain":[0,6],"nice":false},"axis":{"orient":"bottom","values":[0,1,2,3,4,5,6],"title":null}},
    "y":{"field":"ch","type":"quantitative","scale":{"domain":[-2.5,2.5],"nice":false,"zero":false},"axis":{"orient":"left","values":[-2,0,2],"title":"eᵧ(n)"}},
    "y2":{"field":"cl"}}},
  {"data":{"name":"b"},"mark":{"type":"rule","color":"#1a1ae0","strokeWidth":1},
   "encoding":{
    "x":{"field":"x","type":"quantitative","axis":{"orient":"top","values":[0,1,2,3,4,5,6],"labels":false,"title":null}},
    "y":{"field":"l","type":"quantitative","axis":{"orient":"right","values":[-2,0,2],"labels":false,"title":"(b)"}},
    "y2":{"field":"h"}}},
  {"data":{"values":[{}]},"mark":{"type":"rule","color":"#3030c8","stroke":"#3030c8","strokeWidth":1.2},"encoding":{"y":{"datum":0,"type":"quantitative","axis":null}}},
  {"data":{"values":[{}]},"mark":{"type":"text","text":"x 10⁴","align":"right","baseline":"middle","dy":24,"fontSize":10,"color":"#222"},
   "encoding":{"x":{"datum":6,"type":"quantitative","axis":null},"y":{"datum":-2.5,"type":"quantitative","axis":null}}}
 ],
 "resolve":{"axis":{"x":"independent","y":"independent"}}
},
{
 "width":715,"height":65,
 "title":{"text":"input speech s₂"},
 "layer":[
  {"data":{"name":"c"},"mark":{"type":"area","color":"#0000ff"},
   "encoding":{
    "x":{"field":"x","type":"quantitative","scale":{"domain":[0,6],"nice":false},"axis":{"orient":"bottom","values":[0,1,2,3,4,5,6],"title":null}},
    "y":{"field":"ch","type":"quantitative","scale":{"domain":[-1.5,1.5],"nice":false,"zero":false},"axis":{"orient":"left","values":[-1,0,1],"title":"s₂(n)"}},
    "y2":{"field":"cl"}}},
  {"data":{"name":"c"},"mark":{"type":"rule","color":"#1a1ae0","strokeWidth":1},
   "encoding":{
    "x":{"field":"x","type":"quantitative","axis":{"orient":"top","values":[0,1,2,3,4,5,6],"labels":false,"title":null}},
    "y":{"field":"l","type":"quantitative","axis":{"orient":"right","values":[-1,0,1],"labels":false,"title":"(c)"}},
    "y2":{"field":"h"}}},
  {"data":{"values":[{}]},"mark":{"type":"rule","color":"#3030c8","stroke":"#3030c8","strokeWidth":1.2},"encoding":{"y":{"datum":0,"type":"quantitative","axis":null}}},
  {"data":{"values":[{}]},"mark":{"type":"text","text":"x 10⁴","align":"right","baseline":"middle","dy":24,"fontSize":10,"color":"#222"},
   "encoding":{"x":{"datum":6,"type":"quantitative","axis":null},"y":{"datum":-1.5,"type":"quantitative","axis":null}}}
 ],
 "resolve":{"axis":{"x":"independent","y":"independent"}}
},
{
 "width":715,"height":65,
 "title":{"text":"residuals of input speech s₂"},
 "layer":[
  {"data":{"name":"d"},"mark":{"type":"area","color":"#0000ff"},
   "encoding":{
    "x":{"field":"x","type":"quantitative","scale":{"domain":[0,6],"nice":false},"axis":{"orient":"bottom","values":[0,1,2,3,4,5,6],"title":"time(samples)","titlePadding":2}},
    "y":{"field":"ch","type":"quantitative","scale":{"domain":[-2.5,2.5],"nice":false,"zero":false},"axis":{"orient":"left","values":[-2,0,2],"title":"e₂ᵧ(n)"}},
    "y2":{"field":"cl"}}},
  {"data":{"name":"d"},"mark":{"type":"rule","color":"#1a1ae0","strokeWidth":1},
   "encoding":{
    "x":{"field":"x","type":"quantitative","axis":{"orient":"top","values":[0,1,2,3,4,5,6],"labels":false,"title":null}},
    "y":{"field":"l","type":"quantitative","axis":{"orient":"right","values":[-2,0,2],"labels":false,"title":"(d)"}},
    "y2":{"field":"h"}}},
  {"data":{"values":[{}]},"mark":{"type":"rule","color":"#3030c8","stroke":"#3030c8","strokeWidth":1.2},"encoding":{"y":{"datum":0,"type":"quantitative","axis":null}}},
  {"data":{"values":[{}]},"mark":{"type":"text","text":"x 10⁴","align":"right","baseline":"middle","dy":22,"fontSize":10,"color":"#222"},
   "encoding":{"x":{"datum":6,"type":"quantitative","axis":null},"y":{"datum":-2.5,"type":"quantitative","axis":null}}}
 ],
 "resolve":{"axis":{"x":"independent","y":"independent"}}
}
]
}
